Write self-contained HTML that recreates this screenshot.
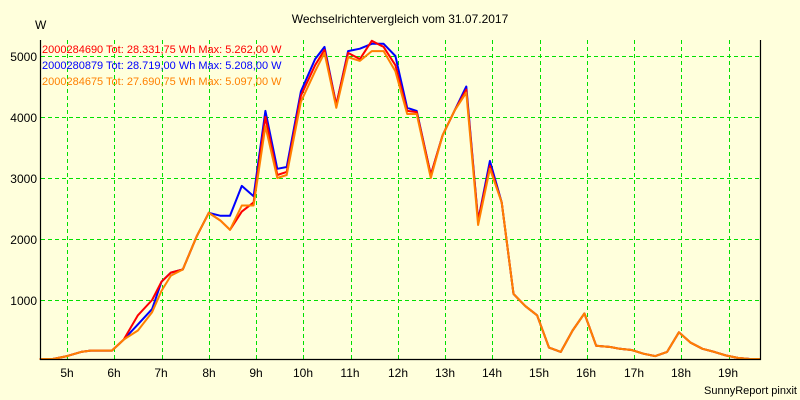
<!DOCTYPE html>
<html><head><style>body{margin:0;background:#ffffdc}svg{display:block;font-family:"Liberation Sans",sans-serif}</style></head>
<body>
<svg id="s" width="800" height="400" xmlns="http://www.w3.org/2000/svg">
<rect width="800" height="400" fill="#ffffdc"/>
<g id="grid" stroke="#00e000" stroke-dasharray="4,3" stroke-width="1"></g>
<g id="lines" fill="none" stroke-width="2" stroke-linejoin="round"></g>
<path d="M40.5,40 V359.5 H760.5 V40" fill="none" stroke="#000" stroke-width="1.2"/>
<text x="400" y="23" font-size="12" text-anchor="middle">Wechselrichtervergleich vom 31.07.2017</text>
<text x="35" y="29" font-size="12">W</text>
<g font-size="12" text-anchor="end">
<text x="37" y="61">5000</text><text x="37" y="122">4000</text><text x="37" y="183">3000</text>
<text x="37" y="244">2000</text><text x="37" y="305">1000</text></g>
<g font-size="12" text-anchor="middle" id="xl"></g>
<g font-size="11">
<text x="42" y="53" fill="#ff0000">2000284690 Tot: 28.331,75 Wh Max: 5.262,00 W</text>
<text x="42" y="69" fill="#0000ff">2000280879 Tot: 28.719,00 Wh Max: 5.208,00 W</text>
<text x="42" y="85" fill="#ff8000">2000284675 Tot: 27.690,75 Wh Max: 5.097,00 W</text></g>
<text x="797" y="394" font-size="11" text-anchor="end">SunnyReport pinxit</text>
<g font-size="12" text-anchor="middle">
<text x="67" y="377">5h</text><text x="114" y="377">6h</text><text x="161" y="377">7h</text><text x="209" y="377">8h</text><text x="256" y="377">9h</text><text x="303" y="377">10h</text><text x="350" y="377">11h</text><text x="398" y="377">12h</text><text x="445" y="377">13h</text><text x="492" y="377">14h</text><text x="539" y="377">15h</text><text x="586" y="377">16h</text><text x="634" y="377">17h</text><text x="681" y="377">18h</text><text x="728" y="377">19h</text></g>
</svg>
<script>
var X=h=>67+(h-5)*47.25, Y=v=>361-v*0.061;
var g=document.getElementById('grid'),ns='http://www.w3.org/2000/svg';
for(var h=5;h<=19;h++){var l=document.createElementNS(ns,'line');var x=Math.round(X(h))+.5;l.setAttribute('x1',x);l.setAttribute('x2',x);l.setAttribute('y1',40);l.setAttribute('y2',359);g.appendChild(l);}
for(var v=1000;v<=5000;v+=1000){var l=document.createElementNS(ns,'line');var y=Math.round(Y(v))+.5;l.setAttribute('x1',41);l.setAttribute('x2',760);l.setAttribute('y1',y);l.setAttribute('y2',y);g.appendChild(l);}
var red=[[4.42,0],[4.7,0],[5,80],[5.3,150],[5.5,170],[5.95,170],[6.2,350],[6.5,750],[6.8,1000],[7,1300],[7.2,1450],[7.45,1500],[7.75,2050],[8,2430],[8.25,2300],[8.45,2150],[8.7,2450],[8.95,2600],[9.2,4000],[9.45,3050],[9.65,3100],[9.95,4350],[10.25,4850],[10.45,5100],[10.7,4200],[10.95,5050],[11.2,4950],[11.45,5250],[11.7,5150],[11.95,4850],[12.2,4100],[12.4,4080],[12.7,3050],[12.95,3700],[13.2,4100],[13.45,4450],[13.7,2300],[13.95,3200],[14.2,2600],[14.45,1100],[14.7,900],[14.95,750],[15.2,220],[15.45,150],[15.7,500],[15.95,780],[16.2,250],[16.5,230],[16.7,200],[16.95,180],[17.2,120],[17.45,80],[17.7,150],[17.95,470],[18.2,300],[18.45,200],[18.7,150],[18.95,90],[19.2,50],[19.45,10],[19.67,0]];
var blue=red.map(p=>p.slice()),org=red.map(p=>p.slice());
var bm={6.5:600,6.8:850,8.25:2380,8.45:2380,8.7:2870,8.95:2700,9.2:4100,9.45:3150,9.65:3180,9.95:4420,10.25:4950,10.45:5150,10.95:5080,11.2:5120,11.45:5200,11.7:5200,11.95:5000,12.2:4150,12.4:4100,13.45:4500,13.95:3280};
var om={6.5:500,6.8:800,7:1150,7.2:1400,8.7:2550,8.95:2550,9.2:3850,9.45:3000,9.65:3050,9.95:4250,10.25:4750,10.45:5050,10.7:4150,10.95:4980,11.2:4920,11.45:5080,11.7:5080,11.95:4750,12.2:4050,12.4:4050,12.7:3000,13.45:4400,13.7:2230,13.95:3150};
blue.forEach(p=>{if(bm[p[0]]!==undefined)p[1]=bm[p[0]]});org.forEach(p=>{if(om[p[0]]!==undefined)p[1]=om[p[0]]});
var L=document.getElementById('lines');
[[blue,'#0000ff'],[red,'#ff0000'],[org,'#ff8000']].forEach(function(s){var p=document.createElementNS(ns,'polyline');p.setAttribute('points',s[0].map(q=>X(q[0]).toFixed(1)+','+Math.min(359,Y(q[1])).toFixed(1)).join(' '));p.setAttribute('stroke',s[1]);L.appendChild(p);});
</script>
</body></html>
